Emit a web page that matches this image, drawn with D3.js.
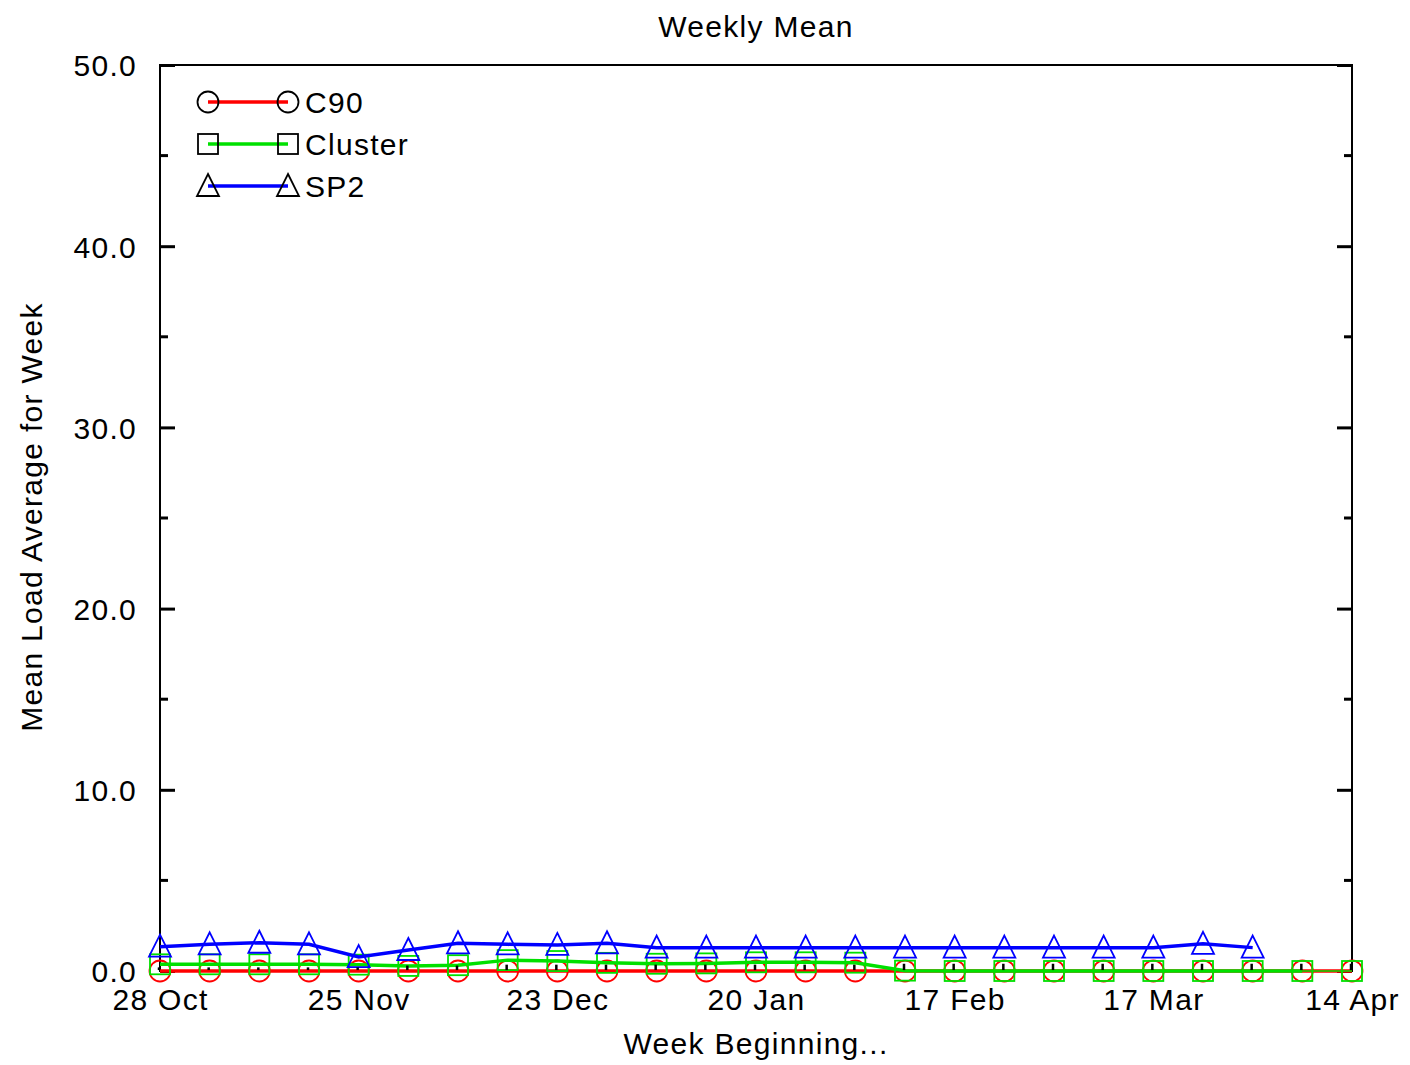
<html>
<head>
<script src="https://d3js.org/d3.v7.min.js"></script>
<style>
body { margin: 0; background: #fff; }
text { font-family: "Liberation Sans", Arial, sans-serif; font-size: 30px; letter-spacing: 1.3px; fill: #000; }
</style>
</head>
<body>
<svg width="1410" height="1065"></svg>
<script>
// weeks starting 28 Oct 1996, one value per week
var startWeek = new Date(Date.UTC(1996, 9, 28));
var weekCount = 25;
var seriesNames = ["C90", "Cluster", "SP2"];
var seriesColors = ["#ff0000", "#00e000", "#0000ff"];
var c90 = [0,0,0,0,0,0,0,0,0,0,0,0,0,0,0,0,0,0,0,0,0,0,0,0,0];
var cluster = [0.37,0.37,0.37,0.37,0.35,0.28,0.32,0.6,0.55,0.45,0.4,0.42,0.48,0.48,0.46,0.02,0,0,0,0,0,0,0,0,0];
var sp2 = [1.34,1.47,1.56,1.47,0.77,1.16,1.53,1.47,1.44,1.53,1.29,1.29,1.29,1.29,1.29,1.29,1.29,1.29,1.29,1.29,1.29,1.5,1.29];
var barHigh = [0.2,0.2,0.2,0.2,0.2,0.3,0.3,0.35,0.35,0.35,0.35,0.35,0.35,0.35,0.35,0.4,0.4,0.4,0.4,0.4,0.4,0.4,0.4,0.4,0.4];
var yTicks = [0, 10, 20, 30, 40, 50];
var yMinor = [5, 15, 25, 35, 45];

var weeks = d3.range(weekCount).map(function(i) { return d3.utcMonday.offset(startWeek, i); });

var svg = d3.select("svg");
var plotLeft = 160, plotRight = 1352, plotTop = 65, plotBottom = 971;
var xscale = d3.scaleUtc().domain([weeks[0], weeks[weekCount - 1]]).range([plotLeft, plotRight]);
var yscale = d3.scaleLinear().domain([0, 50]).range([plotBottom, plotTop]);

// frame
svg.append("rect").attr("x", plotLeft).attr("y", plotTop).attr("width", plotRight - plotLeft).attr("height", plotBottom - plotTop)
  .attr("fill", "none").attr("stroke", "#000").attr("stroke-width", 2);

// y ticks on both sides, pointing inward
var yaxisL = d3.axisLeft(yscale).tickValues(yTicks).tickSize(-15).tickPadding(23).tickFormat(d3.format(".1f"));
var gl = svg.append("g").attr("transform", "translate(" + plotLeft + ",0)").call(yaxisL);
gl.select(".domain").remove();
gl.selectAll(".tick line").attr("stroke-width", 3);
gl.selectAll(".tick text").style("font-size", "30px").attr("font-family", null).attr("dy", "0.36em");

var yaxisR = d3.axisRight(yscale).tickValues(yTicks).tickSize(-15).tickFormat("");
var gr = svg.append("g").attr("transform", "translate(" + plotRight + ",0)").call(yaxisR);
gr.select(".domain").remove();
gr.selectAll(".tick line").attr("stroke-width", 3);

[[plotLeft, 8], [plotRight, -8]].forEach(function(s) {
  svg.selectAll(null).data(yMinor).enter().append("line")
    .attr("x1", s[0]).attr("x2", s[0] + s[1])
    .attr("y1", function(d) { return yscale(d); }).attr("y2", function(d) { return yscale(d); })
    .attr("stroke", "#000").attr("stroke-width", 3);
});

// x labels every 4 weeks, no tick marks
var xaxis = d3.axisBottom(xscale).tickValues(weeks.filter(function(d, i) { return i % 4 == 0; }))
  .tickSize(0).tickPadding(0).tickFormat(d3.utcFormat("%d %b"));
var gx = svg.append("g").attr("transform", "translate(0," + plotBottom + ")").call(xaxis);
gx.select(".domain").remove();
gx.selectAll(".tick text").attr("font-family", null).style("font-size", "30px").attr("dy", null).attr("y", 39);

// titles
svg.append("text").text("Weekly Mean").attr("x", 756).attr("y", 37).attr("text-anchor", "middle");
svg.append("text").text("Week Beginning...").attr("x", 756).attr("y", 1054).attr("text-anchor", "middle");
svg.append("text").text("Mean Load Average for Week").attr("text-anchor", "middle")
  .attr("transform", "translate(42,517) rotate(-90)");

function marker(g, kind, x, y, color) {
  if (kind == 0) {
    g.append("circle").attr("cx", x).attr("cy", y).attr("r", 10.5)
      .attr("fill", "none").attr("stroke", color).attr("stroke-width", 1.8);
  } else if (kind == 1) {
    g.append("rect").attr("x", x - 10).attr("y", y - 10).attr("width", 20).attr("height", 20)
      .attr("fill", "none").attr("stroke", color).attr("stroke-width", 1.8);
  } else {
    g.append("path").attr("d", "M" + x + "," + (y - 12) + "L" + (x + 11) + "," + (y + 10) + "L" + (x - 11) + "," + (y + 10) + "Z")
      .attr("fill", "none").attr("stroke", color).attr("stroke-width", 1.8);
  }
}

var line = d3.line().x(function(d, i) { return xscale(weeks[i]); }).y(function(d) { return yscale(d); });
var lineTail = d3.line().x(function(d, i) { return xscale(weeks[i + 23]); }).y(function(d) { return yscale(d); });

[c90, cluster, sp2].forEach(function(values, k) {
  var g = svg.append("g");
  if (k == 1) {
    g.append("path").attr("d", line(values.slice(0, 24))).attr("fill", "none")
      .attr("stroke", seriesColors[k]).attr("stroke-width", 3.5);
    g.append("path").attr("d", lineTail(values.slice(23))).attr("fill", "none")
      .attr("stroke", seriesColors[k]).attr("stroke-width", 1.5);
  } else {
    g.append("path").attr("d", line(values)).attr("fill", "none")
      .attr("stroke", seriesColors[k]).attr("stroke-width", 3.5);
  }
  values.forEach(function(v, i) {
    marker(g, k, xscale(weeks[i]), yscale(v), seriesColors[k]);
  });
});

// small black bars at each week
svg.selectAll(null).data(barHigh).enter().append("line")
  .attr("x1", function(d, i) { return xscale(weeks[i]) - 1; })
  .attr("x2", function(d, i) { return xscale(weeks[i]) - 1; })
  .attr("y1", yscale(0.05)).attr("y2", function(d) { return yscale(d); })
  .attr("stroke", "#000").attr("stroke-width", 2.5);

// legend
seriesNames.forEach(function(name, k) {
  var y = 102 + k * 42;
  var g = svg.append("g");
  g.append("line").attr("x1", 208).attr("x2", 288).attr("y1", y).attr("y2", y)
    .attr("stroke", seriesColors[k]).attr("stroke-width", 3.5);
  marker(g, k, 208, y, "#000");
  marker(g, k, 288, y, "#000");
  g.append("text").text(name).attr("x", 305).attr("y", y + 11);
});
</script>
</body>
</html>
